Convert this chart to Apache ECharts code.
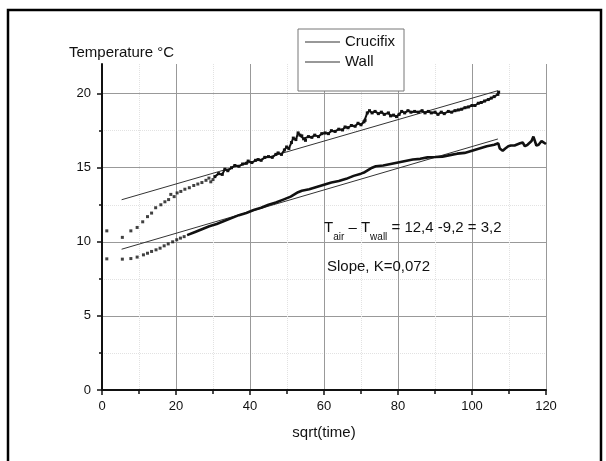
<!DOCTYPE html>
<html>
<head>
<meta charset="utf-8">
<script src="https://cdn.jsdelivr.net/npm/echarts@6/dist/echarts.min.js"></script>
<style>html,body{margin:0;padding:0;background:#fff}#c{width:606px;height:461px}</style>
</head>
<body>
<div id="c"></div>
<script>
// ---- data ----
const crucifixDotsX = [1.3, 5.5, 7.8, 9.5, 11.0, 12.3, 13.4, 14.5, 15.9, 17.0, 18.0, 18.6, 19.5, 20.3, 21.3, 22.4, 23.6, 24.8, 25.9, 27.0, 28.1, 28.9, 29.4, 30.0];
const crucifixDotsY = [10.74, 10.3, 10.74, 10.97, 11.35, 11.7, 11.94, 12.3, 12.5, 12.7, 12.85, 13.2, 13.05, 13.3, 13.4, 13.55, 13.65, 13.8, 13.9, 14.0, 14.15, 14.3, 14.05, 14.2];
const crucifixTraceX = [30.5, 31.5, 32.5, 33.2, 34, 35, 35.9, 37, 38, 39, 39.5, 40.5, 41.5, 42.2, 43, 44, 45, 46, 47, 47.6, 48.5, 49.3, 49.9, 50.5, 51.2, 51.7, 52.4, 53, 53.5, 54, 54.5, 55, 55.8, 56.7, 57.5, 58.5, 59.4, 60.3, 61.2, 62, 63, 64, 65, 65.7, 66.5, 67.4, 68.4, 69.2, 70, 70.8, 71.1, 71.7, 72.3, 73, 73.8, 74.7, 75.5, 76.3, 77.4, 78, 78.8, 79.6, 80.3, 81, 81.8, 82.7, 83.5, 84.5, 85.5, 86.5, 87.3, 88.2, 89, 90, 90.8, 91.7, 92.5, 93.6, 94.5, 95.4, 96.3, 97.2, 98.1, 99, 100, 100.8, 101.7, 102.5, 103.4, 104.4, 105.2, 106, 107, 107.2];
const crucifixTraceY = [14.4, 14.6, 14.55, 14.9, 14.8, 15.0, 15.15, 15.1, 15.25, 15.3, 15.45, 15.35, 15.5, 15.55, 15.5, 15.7, 15.75, 15.7, 15.9, 16.0, 15.9, 16.2, 16.4, 16.3, 16.7, 17.0, 16.9, 17.35, 17.2, 17.15, 16.95, 16.85, 17.1, 17.05, 17.2, 17.1, 17.3, 17.35, 17.3, 17.5, 17.45, 17.6, 17.55, 17.75, 17.7, 17.85, 17.8, 18.0, 17.9, 18.1, 18.2, 18.7, 18.85, 18.7, 18.8, 18.65, 18.75, 18.6, 18.7, 18.5, 18.55, 18.45, 18.6, 18.8, 18.7, 18.85, 18.75, 18.8, 18.75, 18.85, 18.7, 18.8, 18.7, 18.75, 18.6, 18.75, 18.65, 18.8, 18.75, 18.85, 18.9, 18.95, 19.05, 19.1, 19.2, 19.2, 19.35, 19.4, 19.5, 19.6, 19.7, 19.8, 19.95, 20.1];
const wallDotsX = [1.3, 5.5, 7.8, 9.5, 11.2, 12.3, 13.4, 14.6, 15.7, 16.8, 17.9, 19.1, 20.2, 21.2, 22.2];
const wallDotsY = [8.85, 8.83, 8.87, 8.97, 9.12, 9.23, 9.35, 9.46, 9.57, 9.73, 9.86, 10.0, 10.14, 10.25, 10.35];
const wallTraceX = [23, 25, 27, 29, 31, 33, 35, 37, 39, 41, 43, 45, 47, 49, 51, 52, 53, 54, 56, 58, 60, 62, 64, 66, 68, 70, 71, 72, 73, 74, 76, 78, 80, 82, 84, 86, 88, 90, 92, 94, 96, 98, 100, 102, 104, 106, 107.1, 107.5, 108.3, 109, 109.8, 110.5, 111.5, 112, 113, 113.7, 114.3, 115, 116.1, 116.6, 117, 117.4, 118, 118.8, 119.3, 120];
const wallTraceY = [10.45, 10.65, 10.85, 11.05, 11.2, 11.4, 11.6, 11.8, 11.95, 12.15, 12.3, 12.5, 12.65, 12.85, 13.05, 13.2, 13.35, 13.45, 13.55, 13.7, 13.85, 14.0, 14.1, 14.25, 14.45, 14.6, 14.7, 14.85, 15.0, 15.1, 15.15, 15.25, 15.35, 15.45, 15.55, 15.6, 15.7, 15.72, 15.75, 15.85, 15.95, 16.0, 16.15, 16.3, 16.45, 16.55, 16.65, 16.3, 16.15, 16.3, 16.45, 16.5, 16.5, 16.4, 16.65, 16.7, 16.45, 16.55, 16.8, 17.1, 17.15, 16.5, 16.55, 16.8, 16.85, 16.6];
const crucifixFitX = [5.3, 107];
const crucifixFitY = [12.84, 20.2];
const wallFitX = [5.3, 107];
const wallFitY = [9.5, 16.94];
const xTicks = [0, 20, 40, 60, 80, 100, 120];
const yTicks = [0, 5, 10, 15, 20];

const zip = (xs, ys) => xs.map((x, i) => [x, ys[i]]);
const FONT = '"Liberation Sans", Arial, sans-serif';

const chart = echarts.init(document.getElementById('c'), null, {renderer: 'canvas'});
chart.setOption({
  backgroundColor: '#fff',
  animation: false,
  textStyle: {fontFamily: FONT, color: '#111'},
  title: {
    text: 'Temperature °C', left: 64, top: 40,
    textStyle: {fontFamily: FONT, fontSize: 15, fontWeight: 'normal', color: '#111'}
  },
  legend: {
    data: ['Crucifix', 'Wall'],
    orient: 'vertical', left: 298, top: 29,
    icon: 'rect', itemWidth: 35, itemHeight: 1, itemGap: 4,
    padding: [5, 9, 21, 7],
    backgroundColor: '#fff', borderColor: '#777', borderWidth: 1,
    textStyle: {fontFamily: FONT, fontSize: 15, color: '#111', lineHeight: 16},
    selectedMode: false
  },
  grid: {left: 102, right: 60, top: 64, bottom: 71, containLabel: false},
  xAxis: {
    type: 'value', min: 0, max: 120, interval: 20,
    name: 'sqrt(time)', nameLocation: 'middle', nameGap: 35,
    nameTextStyle: {fontFamily: FONT, fontSize: 15, color: '#111'},
    axisLine: {show: true, onZero: false, lineStyle: {color: '#111', width: 2}},
    axisTick: {show: true, length: 5, lineStyle: {color: '#111', width: 1.5}},
    minorTick: {show: true, splitNumber: 2, length: 4, lineStyle: {color: '#111', width: 1.5}},
    axisLabel: {customValues: xTicks, fontFamily: FONT, fontSize: 13, color: '#111', margin: 10},
    splitLine: {show: true, lineStyle: {color: '#999', width: 1}},
    minorSplitLine: {show: true, lineStyle: {color: '#e2e2e2', width: 1, type: 'dotted'}}
  },
  yAxis: {
    type: 'value', min: 0, max: 22, interval: 5,
    axisLine: {show: true, onZero: false, lineStyle: {color: '#111', width: 2}},
    axisTick: {show: true, customValues: yTicks, length: 5, lineStyle: {color: '#111', width: 1.5}},
    minorTick: {show: true, splitNumber: 2, length: 3, lineStyle: {color: '#111', width: 1.5}},
    axisLabel: {customValues: yTicks, fontFamily: FONT, fontSize: 13, color: '#111', margin: 11},
    splitLine: {show: true, lineStyle: {color: '#999', width: 1}},
    minorSplitLine: {show: true, lineStyle: {color: '#e2e2e2', width: 1, type: 'dotted'}}
  },
  series: [
    {name: 'Crucifix', type: 'line', data: zip(crucifixFitX, crucifixFitY), showSymbol: false,
     lineStyle: {color: '#333', width: 1}, itemStyle: {color: '#333'}, z: 3},
    {name: 'Wall', type: 'line', data: zip(wallFitX, wallFitY), showSymbol: false,
     lineStyle: {color: '#333', width: 1}, itemStyle: {color: '#333'}, z: 3},
    {name: 'Crucifix', type: 'scatter', data: zip(crucifixDotsX, crucifixDotsY), symbol: 'rect', symbolSize: 3,
     itemStyle: {color: '#111'}, z: 4},
    {name: 'Crucifix', type: 'line', data: zip(crucifixTraceX, crucifixTraceY), symbol: 'rect', symbolSize: 3, showSymbol: true,
     lineStyle: {color: '#111', width: 2}, itemStyle: {color: '#111'}, z: 4},
    {name: 'Wall', type: 'scatter', data: zip(wallDotsX, wallDotsY), symbol: 'rect', symbolSize: 3,
     itemStyle: {color: '#111'}, z: 4},
    {name: 'Wall', type: 'line', data: zip(wallTraceX, wallTraceY), showSymbol: false,
     lineStyle: {color: '#111', width: 2.6}, itemStyle: {color: '#111'}, z: 4}
  ],
  graphic: [
    {type: 'rect', shape: {x: 8, y: 10, width: 593, height: 480}, style: {fill: 'none', stroke: '#000', lineWidth: 2.5}, z: 100, silent: true},
    {type: 'text', left: 324, top: 214, z: 100,
     style: {
       text: 'T{s|air} – T{s|wall} = 12,4 -9,2 = 3,2',
       font: '15px ' + FONT, fill: '#111', lineHeight: 28,
       rich: {s: {fontSize: 10, fontFamily: FONT, fill: '#111', lineHeight: 12, verticalAlign: 'bottom'}}
     }},
    {type: 'text', left: 327, top: 259, z: 100,
     style: {text: 'Slope, K=0,072', font: '15px ' + FONT, fill: '#111'}}
  ]
});
</script>
</body>
</html>
